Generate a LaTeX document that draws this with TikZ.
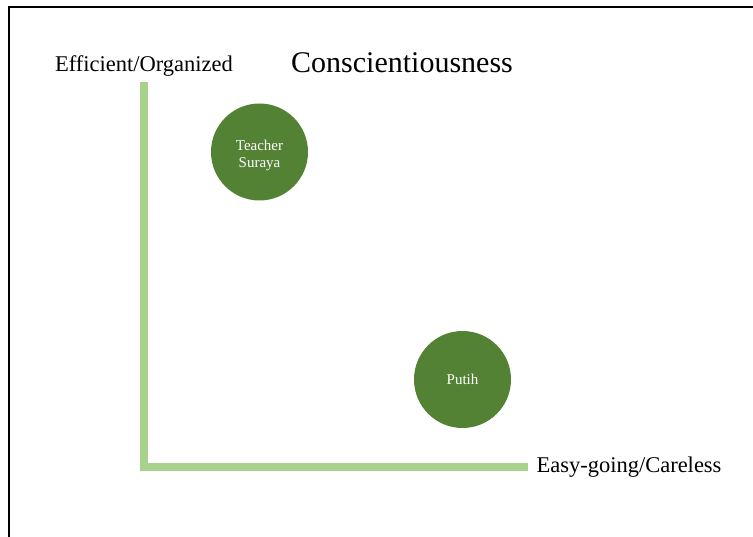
\documentclass[tikz,border=0pt]{standalone}
\usepackage{fontspec}
\setmainfont{Liberation Serif}
\usepackage{tikz}
\usetikzlibrary{positioning}
\usepackage{xcolor}
\definecolor{axisgreen}{HTML}{A9D18E}
\definecolor{dotgreen}{HTML}{548235}

\begin{document}
\begin{tikzpicture}[x=1pt,y=-1pt,
  axislabel/.style={anchor=base,inner sep=0pt,font=\fontsize{22.5}{26}\selectfont},
  person/.style={circle,fill=dotgreen,minimum size=97pt,inner sep=0pt},
  personname/.style={text=white,align=center,inner sep=0pt,font=\fontsize{15}{17.5}\selectfont}]
\useasboundingbox (0,0) rectangle (753,537);
\draw[line width=2pt] (9,537) -- (9,7) -- (753,7);
\coordinate (ytop) at (144,82);
\coordinate (origin) at (144,467);
\coordinate (xend) at (528,467);
\draw[axisgreen,line width=8pt,line join=miter] (ytop) -- (origin) -- (xend);
\node[axislabel] (ylab) at (144,72) {Efficient/Organized};
\node[axislabel] (xlab) at (629,472) {Easy-going/Careless};
\node[anchor=base,inner sep=0pt,font=\fontsize{30}{36}\selectfont] (title) at (402,73) {Conscientiousness};
\node[person] (suraya) at (259.5,152) {};
\node[personname] (surayaname) at ([yshift=-3.5pt]suraya.center) {Teacher\\Suraya};
\node[person] (putih) at (462.5,379.5) {};
\node[personname] (putihname) at (putih.center) {Putih};
\end{tikzpicture}
\end{document}
